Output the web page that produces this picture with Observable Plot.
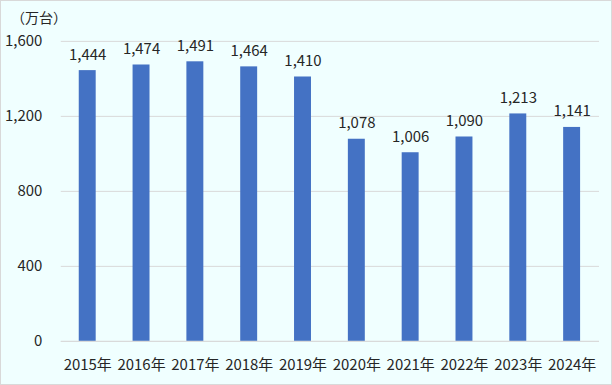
<!DOCTYPE html>
<html><head><meta charset="utf-8">
<script src="https://cdn.jsdelivr.net/npm/d3@7"></script>
<script src="https://cdn.jsdelivr.net/npm/@observablehq/plot@0.6"></script>
<style>
html,body{margin:0;padding:0;background:#fff;}
#wrap{position:relative;width:610px;height:383px;border:1px solid #d9d9d9;background:#F0FFFF;overflow:hidden;}
#unit{position:absolute;left:10px;top:6px;font:14px "Noto Sans CJK JP",sans-serif;color:#262626;z-index:2;}
svg{position:absolute;left:-1px;top:-1px;}
#wrap svg text{font-size:15px;}
</style></head>
<body><div id="wrap"><div id="unit">（万台）</div></div>
<script>
const years = ["2015年","2016年","2017年","2018年","2019年","2020年","2021年","2022年","2023年","2024年"];
const values = [1444,1474,1491,1464,1410,1078,1006,1090,1213,1141];
const yTicks = [0,400,800,1200,1600];
const data = years.map((y,i)=>({year:y, value:values[i]}));
const fmt = d3.format(",");
const chart = Plot.plot({
  width: 612, height: 385,
  marginTop: 41, marginBottom: 43, marginLeft: 61, marginRight: 11,
  style: {background: "transparent", fontFamily: "'Noto Sans CJK JP', sans-serif", fontSize: "15px", color: "#262626"},
  x: {domain: years, paddingInner: 0.685, paddingOuter: 0.3425, label: null, tickSize: 0, tickPadding: 18},
  y: {domain: [0,1600], ticks: yTicks, tickFormat: fmt, label: null, tickSize: 0, tickPadding: 19},
  marks: [
    Plot.gridY(yTicks, {stroke: "#d9d9d9", strokeOpacity: 1}),
    Plot.barY(data, {x: "year", y: "value", fill: "#4472C4"}),
    Plot.ruleY([0], {stroke: "#d9d9d9"}),
    Plot.text(data, {x: "year", y: "value", text: d => fmt(d.value), lineAnchor: "bottom", dy: -11, fill: "#262626", fontSize: 15})
  ]
});
document.getElementById("wrap").appendChild(chart);
</script></body></html>
